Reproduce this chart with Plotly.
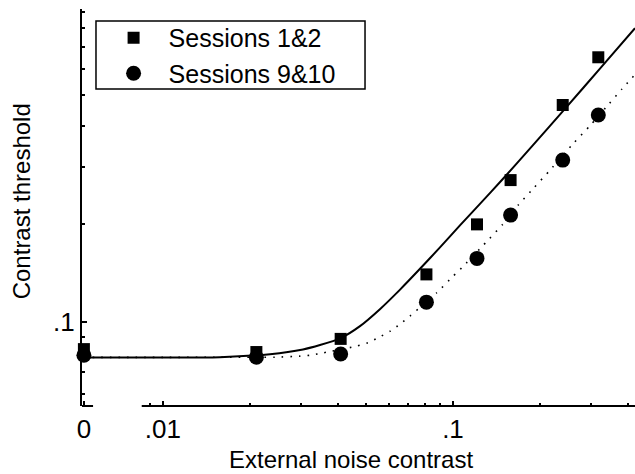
import plotly.graph_objects as go

# Zero external noise is drawn at this position on the log axis (broken-axis convention)
ZERO_POS = 0.00534

# Measured thresholds
noise = [0, 0.021, 0.041, 0.081, 0.121, 0.158, 0.239, 0.317]
thr_s12 = [0.0826, 0.0809, 0.0888, 0.1402, 0.1998, 0.2734, 0.4653, 0.6524]
thr_s910 = [0.0791, 0.0780, 0.0798, 0.1152, 0.1570, 0.2134, 0.3150, 0.4334]

# Model fits
fit_noise_s12 = [0, 0.01, 0.0157, 0.0234, 0.0304, 0.0348, 0.0408, 0.0478, 0.0560,
                 0.0657, 0.0780, 0.0902, 0.1057, 0.1239, 0.1472, 0.1891, 0.2466,
                 0.3212, 0.4242]
fit_thr_s12 = [0.0779, 0.0779, 0.0780, 0.0797, 0.0824, 0.0850, 0.0891, 0.0972, 0.1096,
               0.1259, 0.1477, 0.1698, 0.1984, 0.2310, 0.2730, 0.3510, 0.4590,
               0.6021, 0.8012]

fit_noise_s910 = [0, 0.01, 0.0157, 0.0216, 0.0243, 0.0297, 0.0323, 0.0356, 0.0467,
                  0.0509, 0.0560, 0.0610, 0.0657, 0.0711, 0.0763, 0.0879, 0.1002,
                  0.1072, 0.1299, 0.1484, 0.1679, 0.1902, 0.2173, 0.2614, 0.2984,
                  0.3370, 0.3826, 0.4242]
fit_thr_s910 = [0.0779, 0.0779, 0.0780, 0.0780, 0.0780, 0.0786, 0.0791, 0.0804, 0.0844,
                0.0864, 0.0901, 0.0940, 0.0986, 0.1044, 0.1102, 0.1231, 0.1385,
                0.1469, 0.1758, 0.1998, 0.2291, 0.2589, 0.2950, 0.3562, 0.4039,
                0.4576, 0.5211, 0.5773]

x_tickvals = [ZERO_POS, 0.01, 0.1]
x_ticktext = ["0", ".01", ".1"]
x_minor = [0.009, 0.02, 0.03, 0.04, 0.05, 0.06, 0.07, 0.08, 0.09, 0.2, 0.3, 0.4]
y_tickvals = [0.1]
y_ticktext = [".1"]
y_minor = [0.06, 0.07, 0.08, 0.09, 0.2, 0.3, 0.4, 0.5, 0.6, 0.7, 0.8, 0.9]


def place(xs):
    return [ZERO_POS if v == 0 else v for v in xs]


FONT = "Liberation Sans, Arial, Helvetica, sans-serif"

fig = go.Figure()
fig.add_trace(go.Scatter(
    x=place(fit_noise_s910), y=fit_thr_s910, mode="lines",
    line=dict(color="black", width=1.6, dash="1.6px,7px", shape="spline", smoothing=0.5),
    showlegend=False, hoverinfo="skip"))
fig.add_trace(go.Scatter(
    x=place(fit_noise_s12), y=fit_thr_s12, mode="lines",
    line=dict(color="black", width=2, shape="spline", smoothing=0.6),
    showlegend=False, hoverinfo="skip"))
fig.add_trace(go.Scatter(
    x=place(noise), y=thr_s12, mode="markers", name="Sessions 1&2",
    marker=dict(symbol="square", size=12, color="black"), cliponaxis=False))
fig.add_trace(go.Scatter(
    x=place(noise), y=thr_s910, mode="markers", name="Sessions 9&10",
    marker=dict(symbol="circle", size=15, color="black"), cliponaxis=False))

fig.update_layout(
    width=635, height=474,
    margin=dict(l=82, r=0, t=9, b=68),
    paper_bgcolor="white", plot_bgcolor="white",
    font=dict(family=FONT, color="black", size=24),
    showlegend=True,
    legend=dict(x=0.03, y=0.985, xanchor="left", yanchor="top",
                bgcolor="rgba(0,0,0,0)", borderwidth=0,
                itemwidth=60, font=dict(size=25), tracegroupgap=0),
    xaxis=dict(type="log", range=[-2.279, -0.3724],
               tickvals=x_tickvals, ticktext=x_ticktext,
               ticks="inside", ticklen=5, tickwidth=1.5, tickcolor="black",
               minor=dict(tickvals=x_minor, ticks="inside", ticklen=3,
                          tickwidth=1.5, tickcolor="black", showgrid=False),
               showline=False, showgrid=False, zeroline=False,
               tickfont=dict(size=26), ticklabelstandoff=5),
    yaxis=dict(type="log", range=[-1.258, -0.037],
               tickvals=y_tickvals, ticktext=y_ticktext,
               ticks="inside", ticklen=5, tickwidth=1.5, tickcolor="black",
               minor=dict(tickvals=y_minor, ticks="inside", ticklen=3,
                          tickwidth=1.5, tickcolor="black", showgrid=False),
               showline=True, linewidth=2, linecolor="black",
               showgrid=False, zeroline=False,
               tickfont=dict(size=26), ticklabelstandoff=0),
    shapes=[
        # short foot of the broken x axis under the zero-noise point
        dict(type="line", xref="paper", yref="paper", x0=0, x1=0.02, y0=0, y1=0,
             line=dict(color="black", width=2)),
        # main log segment of the x axis
        dict(type="line", xref="paper", yref="paper", x0=0.108, x1=1, y0=0, y1=0,
             line=dict(color="black", width=2)),
        # legend frame
        dict(type="rect", xref="paper", yref="paper", x0=0.0253, x1=0.5118,
             y0=0.7985, y1=0.9698, line=dict(color="black", width=1.5),
             fillcolor="rgba(0,0,0,0)"),
    ],
    annotations=[
        dict(text="Contrast threshold", xref="paper", yref="paper",
             x=-0.11, y=0.516, textangle=-90, showarrow=False,
             xanchor="center", yanchor="middle", font=dict(size=24)),
        dict(text="External noise contrast", xref="paper", yref="paper",
             x=0.486, y=-0.134, showarrow=False,
             xanchor="center", yanchor="middle", font=dict(size=24)),
    ],
)

fig.write_html("out.html")
